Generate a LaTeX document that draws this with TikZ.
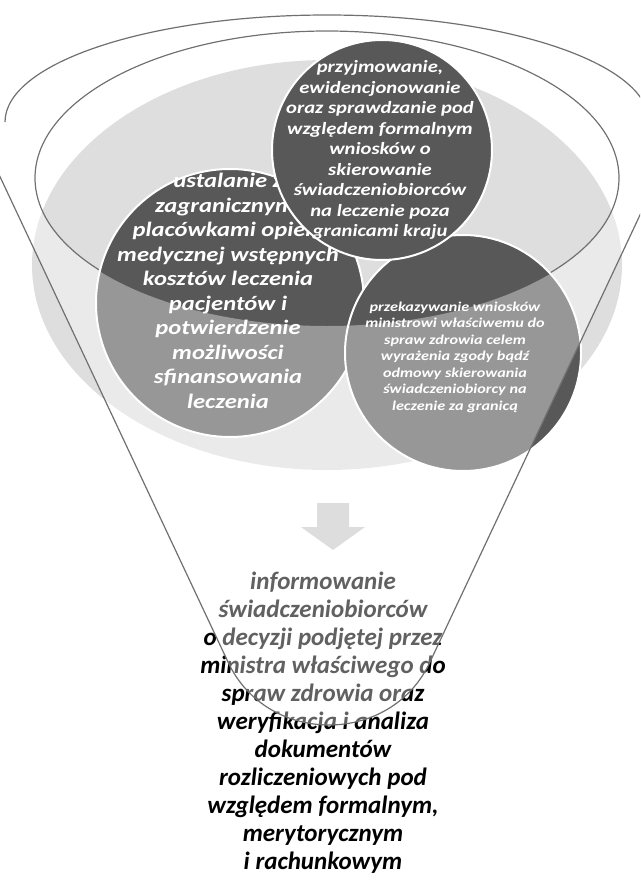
\documentclass[tikz,border=0pt]{standalone}
\usepackage{fontspec}
\setmainfont{Carlito}
\newfontfamily\discfont[FakeStretch=1.2]{Carlito}
\usepackage{xcolor}
\usepackage{tikz}
\usetikzlibrary{positioning}
\definecolor{discdark}{RGB}{88,88,88}
\definecolor{rimline}{RGB}{112,112,112}
\definecolor{haze}{RGB}{222,222,222}
\definecolor{arrowgray}{RGB}{201,201,201}

\begin{document}
\begin{tikzpicture}[
  x=1pt, y=-1pt,
  disc/.style={fill=discdark, draw=white, line width=2pt},
  rim/.style={draw=rimline, line width=1.2pt},
  intext/.style={text=white, align=center, inner sep=0pt},
  outtext/.style={text=black, align=center, inner sep=0pt, font=\fontsize{25}{28}\selectfont\bfseries\itshape}
]
\useasboundingbox (0,0) rectangle (640,891);
\clip (0,0) rectangle (640,891);
\fill[haze] (327,265) ellipse [x radius=295, y radius=205];
\draw[rim] (327,178) ellipse [x radius=292, y radius=147];

\coordinate (cleft) at (230,303);
\coordinate (cright) at (463,353);
\coordinate (ctop) at (382,150);
\path[disc] (cleft) circle [radius=134];
\node[intext, font=\discfont\fontsize{20.5}{24.5}\selectfont\bfseries\itshape] (tleft) at (228,291)
  {ustalanie z\\zagranicznymi\\placówkami opieki\\medycznej wstępnych\\kosztów leczenia\\pacjentów i\\potwierdzenie\\możliwości\\sfinansowania\\leczenia};
\path[disc] (cright) circle [radius=118];
\node[intext, font=\discfont\fontsize{13.5}{16.5}\selectfont\bfseries\itshape] (tright) at (455,357)
  {przekazywanie wniosków\\ministrowi właściwemu do\\spraw zdrowia celem\\wyrażenia zgody bądź\\odmowy skierowania\\świadczeniobiorcy na\\leczenie za granicą};
\path[disc] (ctop) circle [radius=110];
\node[intext, font=\discfont\fontsize{17.2}{20.5}\selectfont\bfseries\itshape] (ttop) at (380,150)
  {przyjmowanie,\\ewidencjonowanie\\oraz sprawdzanie pod\\względem formalnym\\wniosków o\\skierowanie\\świadczeniobiorców\\na leczenie poza\\granicami kraju};

\fill[arrowgray] (317,503) -- (349,503) -- (349,527) -- (365,527) -- (333,550) -- (301,527) -- (317,527) -- cycle;

\node[outtext] (tbottom) at (323,723)
  {informowanie\\świadczeniobiorców\\o decyzji podjętej przez\\ministra właściwego do\\spraw zdrowia oraz\\weryfikacja i analiza\\dokumentów\\rozliczeniowych pod\\względem formalnym,\\merytorycznym\\i rachunkowym};

\fill[white, fill opacity=0.38, even odd rule] (-83,0) -- (228,662) .. controls (267,746) and (391,746) .. (430,662) -- (741,0) -- cycle
  (327,178) ellipse [x radius=293, y radius=148];

\draw[rim] (5,122) arc [start angle=180, end angle=360, x radius=322, y radius=107];
\draw[rim] (-83,0) -- (228,662) .. controls (267,746) and (391,746) .. (430,662) -- (741,0);
\end{tikzpicture}
\end{document}
